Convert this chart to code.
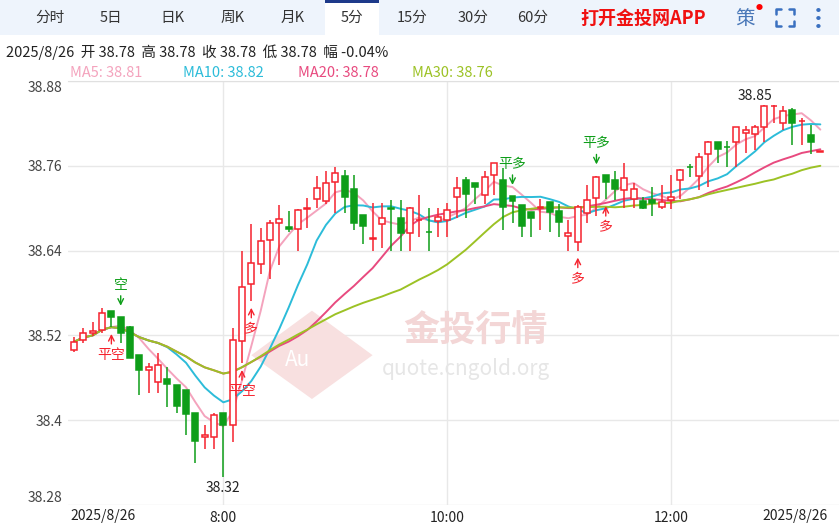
import numpy as np, pandas as pd, seaborn as sns, matplotlib
matplotlib.use("Agg")
import matplotlib.pyplot as plt
from matplotlib.patches import Rectangle, Polygon
from matplotlib.lines import Line2D

sns.set_style("white")
plt.rcParams['font.family'] = ['Noto Sans CJK SC', 'DejaVu Sans']

opens = [38.499,38.513,38.523,38.528,38.555,38.546,38.532,38.492,38.471,38.454,38.458,38.450,38.443,38.410,38.376,38.376,38.410,38.393,38.512,38.593,
         38.621,38.655,38.679,38.674,38.671,38.699,38.713,38.710,38.737,38.746,38.727,38.691,38.657,38.678,38.700,38.686,38.665,38.683,38.667,38.682,
         38.683,38.716,38.740,38.736,38.719,38.747,38.740,38.717,38.705,38.695,38.700,38.709,38.696,38.661,38.652,38.693,38.715,38.747,38.740,38.726,
         38.713,38.710,38.712,38.702,38.712,38.740,38.759,38.746,38.776,38.793,38.787,38.794,38.807,38.805,38.815,38.844,38.821,38.839,38.823,38.804,38.780]
highs = [38.518,38.530,38.539,38.559,38.555,38.546,38.533,38.492,38.481,38.495,38.475,38.450,38.443,38.410,38.393,38.410,38.410,38.530,38.640,38.678,
         38.672,38.683,38.705,38.696,38.699,38.715,38.746,38.752,38.759,38.754,38.747,38.691,38.708,38.708,38.712,38.712,38.702,38.719,38.700,38.700,
         38.708,38.744,38.744,38.736,38.752,38.764,38.757,38.717,38.705,38.695,38.713,38.709,38.706,38.683,38.705,38.733,38.746,38.747,38.752,38.764,
         38.736,38.716,38.730,38.733,38.747,38.756,38.763,38.778,38.795,38.793,38.795,38.815,38.817,38.818,38.846,38.846,38.844,38.842,38.827,38.818,38.780]
lows = [38.496,38.509,38.519,38.523,38.532,38.509,38.488,38.436,38.438,38.438,38.419,38.410,38.379,38.339,38.359,38.359,38.319,38.369,38.481,38.569,
        38.607,38.600,38.620,38.667,38.640,38.672,38.700,38.706,38.693,38.693,38.669,38.649,38.640,38.644,38.640,38.640,38.640,38.659,38.640,38.659,
        38.659,38.686,38.686,38.706,38.706,38.719,38.669,38.679,38.659,38.659,38.669,38.666,38.659,38.640,38.640,38.679,38.689,38.713,38.712,38.700,
        38.700,38.699,38.689,38.699,38.699,38.713,38.744,38.726,38.730,38.764,38.759,38.759,38.778,38.783,38.793,38.821,38.810,38.790,38.790,38.776,38.780]
closes = [38.511,38.523,38.526,38.552,38.546,38.523,38.488,38.471,38.475,38.478,38.451,38.420,38.409,38.370,38.379,38.407,38.393,38.513,38.589,38.623,
          38.654,38.679,38.685,38.671,38.698,38.700,38.729,38.735,38.750,38.716,38.679,38.675,38.658,38.686,38.699,38.665,38.700,38.684,38.666,38.688,
          38.698,38.729,38.720,38.730,38.744,38.764,38.702,38.710,38.675,38.686,38.702,38.695,38.681,38.665,38.702,38.712,38.744,38.737,38.727,38.743,
          38.727,38.700,38.708,38.709,38.716,38.754,38.758,38.773,38.793,38.784,38.786,38.815,38.810,38.815,38.845,38.845,38.837,38.821,38.824,38.794,38.780]
yticks = [38.28, 38.4, 38.52, 38.64, 38.76, 38.88]
xtick_pos = [16, 40, 64]
xtick_labels = ["8:00", "10:00", "12:00"]
ma_periods = [5, 10, 20, 30]
ma_colors = ["#f4a3bd", "#2cbcd9", "#e84a7f", "#9cc225"]
ma_labels = ["MA5: 38.81", "MA10: 38.82", "MA20: 38.78", "MA30: 38.76"]
signals = [(5, "空", "down"), (4, "平空", "up"), (19, "多", "up"), (18, "平空", "up"),
           (47, "平多", "down"), (54, "多", "up"), (56, "平多", "down"), (57, "多", "up")]

RED, GREEN = "#f5222d", "#0e9e19"
W, H = 839, 523
fig = plt.figure(figsize=(8.39, 5.23), dpi=100)
ax = fig.add_axes([68/W, 18/H, 771/W, 424/H])
df = pd.DataFrame({"i": np.arange(len(closes)), "o": opens, "h": highs, "l": lows, "c": closes})
for r in df.itertuples():
    col = RED if r.c >= r.o else GREEN
    top, bot = max(r.o, r.c), min(r.o, r.c)
    ax.vlines(r.i, r.l, bot, color=col, lw=1.1, zorder=3)
    ax.vlines(r.i, top, r.h, color=col, lw=1.1, zorder=3)
    ax.add_patch(Rectangle((r.i-0.32, bot), 0.64, max(top-bot, 0.0008),
                           facecolor="white" if col == RED else GREEN, edgecolor=col, lw=1.1, zorder=4))
for p, c in zip(ma_periods, ma_colors):
    df[f"ma{p}"] = df["c"].rolling(p, min_periods=1).mean()
    sns.lineplot(data=df, x="i", y=f"ma{p}", color=c, lw=1.4, ax=ax, zorder=2)

for i, t, d in signals:
    if d == "down":
        y = highs[i] + 0.012
        ax.annotate("", xy=(i, y), xytext=(i, y+0.022), arrowprops=dict(arrowstyle="->", color=GREEN, lw=1), zorder=6)
        ax.text(i, y+0.024, t, color=GREEN, ha="center", va="bottom", fontsize=10, zorder=6)
    else:
        y = lows[i] - 0.006
        ax.annotate("", xy=(i, y), xytext=(i, y-0.022), arrowprops=dict(arrowstyle="->", color=RED, lw=1), zorder=6)
        ax.text(i, y-0.024, t, color=RED, ha="center", va="top", fontsize=10, zorder=6)
imax, imin = int(np.argmax(highs)), int(np.argmin(lows))
ax.text(imax-1, highs[imax]+0.003, f"{highs[imax]:.2f}", ha="center", va="bottom", fontsize=10, color="#222")
ax.text(imin, lows[imin]-0.005, f"{lows[imin]:.2f}", ha="center", va="top", fontsize=10, color="#222")
# watermark
ax.add_patch(Polygon([(25.5, 38.555), (32, 38.492), (25.5, 38.43), (19, 38.492)], closed=True,
                     facecolor="#f8e0e0", edgecolor="none", zorder=1))
ax.text(24, 38.485, "Au", fontsize=15, color="white", ha="center", va="center", zorder=1)
ax.text(43, 38.527, "金投行情", fontsize=26, color="#f3d6d6", ha="center", va="center", zorder=1, fontweight="bold")
ax.text(42, 38.473, "quote.cngold.org", fontsize=15, color="#e6e6e6", ha="center", va="center", zorder=1)

ax.set_xlim(-0.65, 82)
ax.set_ylim(38.28, 38.88)
ax.set_yticks(yticks)
ax.set_yticklabels([f"{v:g}" for v in yticks], fontsize=10, color="#444")
labs = ax.get_yticklabels()
labs[0].set_va("bottom"); labs[-1].set_va("top")
ax.set_xticks(xtick_pos)
ax.set_xticklabels(xtick_labels, fontsize=10, color="#222")
ax.tick_params(length=0, pad=4)
ax.grid(True, color="#e8e8e8", lw=1)
ax.set_xlabel(""); ax.set_ylabel("")
for s in ax.spines.values(): s.set_visible(False)
ax.spines["top"].set_visible(True); ax.spines["top"].set_color("#e0e0e0")
fig.text(70/W, 1-516/H, "2025/8/26", fontsize=10, va="center", color="#222")
fig.text(762/W, 1-516/H, "2025/8/26", fontsize=10, va="center", color="#222")

# header
fig.patches.append(Rectangle((0, 1-35/H), 1, 35/H, transform=fig.transFigure, facecolor="#eef4fc", edgecolor="none"))
fig.patches.append(Rectangle((325/W, 1-35/H), 54/W, 35/H, transform=fig.transFigure, facecolor="white", edgecolor="none"))
fig.patches.append(Rectangle((325/W, 1-3/H), 54/W, 3/H, transform=fig.transFigure, facecolor="#1e3a8a", edgecolor="none"))
tabs = ["分时", "5日", "日K", "周K", "月K", "5分", "15分", "30分", "60分"]
tabx = [50, 111, 172, 233, 293, 352, 412, 473, 533]
for t, x in zip(tabs, tabx):
    fig.text(x/W, 1-18/H, t, fontsize=10.5, ha="center", va="center", color="#333")
fig.text(580/W, 1-18/H, "打开金投网APP", fontsize=13, fontweight="bold", color="#f01010", va="center")
fig.text(745/W, 1-18/H, "策", fontsize=14, color="#4a78b8", ha="center", va="center")
fig.text(759/W, 1-8/H, "●", fontsize=5, color="red", ha="center", va="center")
def fl(xs, ys):
    fig.add_artist(Line2D([x/W for x in xs], [1-y/H for y in ys], color="#3a70c0", lw=1.8, transform=fig.transFigure))
for cx, cy, dx, dy in [(776, 9, 1, 1), (794, 9, -1, 1), (776, 26, 1, -1), (794, 26, -1, -1)]:
    fl([cx+5*dx, cx, cx], [cy, cy, cy+5*dy])
for yy in [10, 18, 26]:
    fig.text(818/W, 1-yy/H, "●", fontsize=3.5, color="#3a70c0", ha="center", va="center")
fig.text(6/W, 1-52/H, "2025/8/26  开 38.78  高 38.78  收 38.78  低 38.78  幅 -0.04%", fontsize=10.5, color="#222", va="center")
for lab, c, x in zip(ma_labels, ma_colors, [70, 183, 298, 412]):
    fig.text(x/W, 1-73/H, lab, fontsize=10.5, color=c, va="center")
fig.savefig("out.png", dpi=100, facecolor="white")
